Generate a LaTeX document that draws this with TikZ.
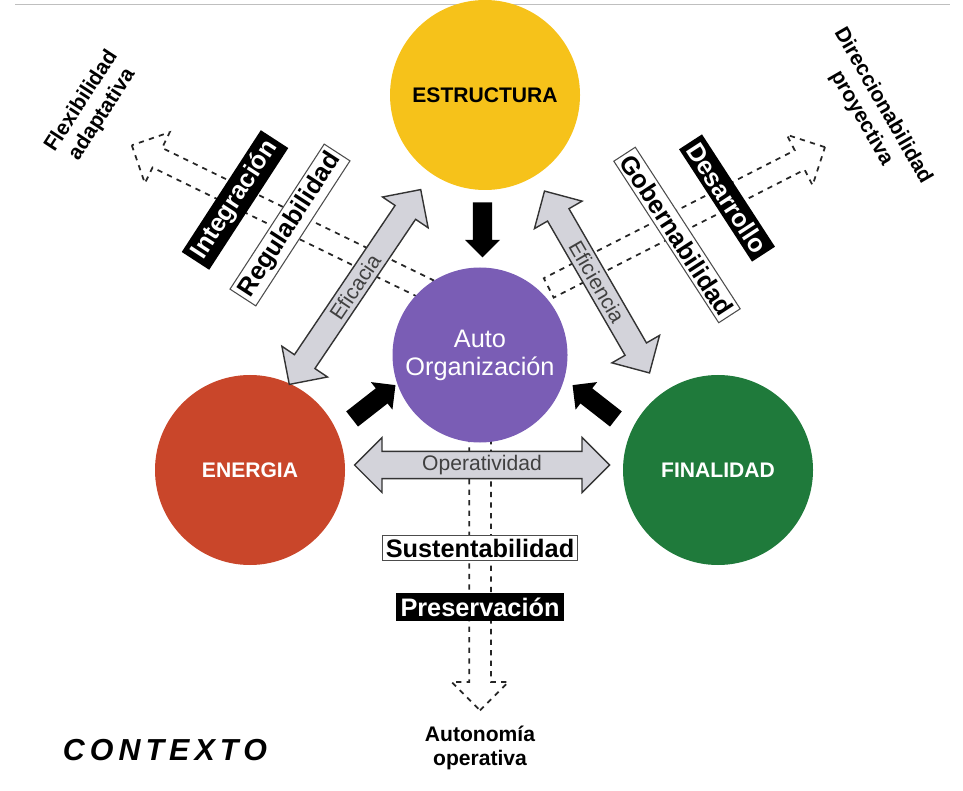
\documentclass[tikz,border=0pt]{standalone}
\usepackage{fontspec}
\setmainfont{Liberation Sans}
\usetikzlibrary{shapes.arrows,calc}

\definecolor{estrcol}{HTML}{F6C21A}
\definecolor{autocol}{HTML}{7A5DB5}
\definecolor{enercol}{HTML}{C9462A}
\definecolor{finacol}{HTML}{1F7A3B}
\definecolor{flechacol}{HTML}{D3D3DA}

\tikzset{
  circulo/.style={circle, minimum size=38mm, inner sep=0pt, font=\bfseries\large},
  doble/.style={double arrow, draw=black!80, fill=flechacol, line width=0.8pt,
    minimum height=#1, minimum width=11mm, double arrow head extend=2.5mm,
    inner sep=1pt, font=\large, text=black!75},
  hueca/.style={single arrow, draw=black!85, dashed, line width=1pt,
    minimum height=#1, minimum width=9mm, single arrow head extend=3.5mm,
    inner sep=0pt},
  negra/.style={single arrow, fill=black, minimum height=11mm, minimum width=7mm,
    single arrow head extend=1.5mm, inner sep=0pt},
  caja/.style={draw=black!70, fill=white, line width=0.6pt, font=\bfseries\Large,
    inner sep=2pt},
  cajanegra/.style={fill=black, text=white, font=\bfseries\Large, inner sep=2.5pt},
  rotulo/.style={font=\bfseries\large, align=center}
}

\begin{document}
\begin{tikzpicture}[x=0.2mm, y=-0.2mm]
  \useasboundingbox (0,0) rectangle (963,791);
  \draw[black!25] (15,4) -- (950,4);

  % flechas discontinuas hacia afuera
  \node[hueca=66mm, rotate=154] (flex) at (285,220) {\rule{0pt}{4mm}};
  \node[hueca=62mm, rotate=27] (dire) at (682,220) {\rule{0pt}{4mm}};
  \node[hueca=56mm, rotate=-90] (auton) at (480,565) {\rule{0pt}{4mm}};

  % circulos
  \node[circulo, fill=estrcol] (estr) at (485,95) {ESTRUCTURA};
  \node[circulo, fill=autocol, minimum size=35mm, text=white, font=\Large, align=center]
    (auto) at (480,355) {Auto\\[-2pt]Organización};
  \node[circulo, fill=enercol, text=white] (ener) at (250,470) {ENERGIA};
  \node[circulo, fill=finacol, text=white] (fina) at (718,470) {FINALIDAD};

  % flechas negras hacia el centro
  \node[negra, rotate=-90] (n1) at ($(estr)!0.5!(auto)$) {\rule{0pt}{3.5mm}};
  \node[negra, rotate=38] (n2) at (370,405) {\rule{0pt}{3.5mm}};
  \node[negra, rotate=142] (n3) at (598,405) {\rule{0pt}{3.5mm}};

  % flechas dobles grises
  \node[doble=47mm, rotate=56] (efic) at (355,287) {Eficacia};
  \node[doble=42mm, rotate=-60] (efie) at (597,282) {Eficiencia};
  \node[doble=51mm] (oper) at (482,465) {Operatividad};

  % rotulos
  \node[cajanegra, rotate=57] (integ) at (235,200) {Integración};
  \node[caja, rotate=57] (regul) at (290,225) {Regulabilidad};
  \node[caja, rotate=-57] (gober) at (677,235) {Gobernabilidad};
  \node[cajanegra, rotate=-57] (desar) at (727,198) {Desarrollo};
  \node[caja] (suste) at (480,548) {Sustentabilidad};
  \node[cajanegra] (prese) at (480,607) {Preservación};

  \node[rotulo, rotate=57] (flextxt) at (92,108) {Flexibilidad\\adaptativa};
  \node[rotulo, rotate=-60] (diretxt) at (872,112) {Direccionabilidad\\proyectiva};
  \node[rotulo] (autotxt) at (480,748) {Autonomía\\operativa};
  \node[font=\bfseries\itshape\LARGE] (contexto) at (165,750) {C\,O\,N\,T\,E\,X\,T\,O};
\end{tikzpicture}
\end{document}
